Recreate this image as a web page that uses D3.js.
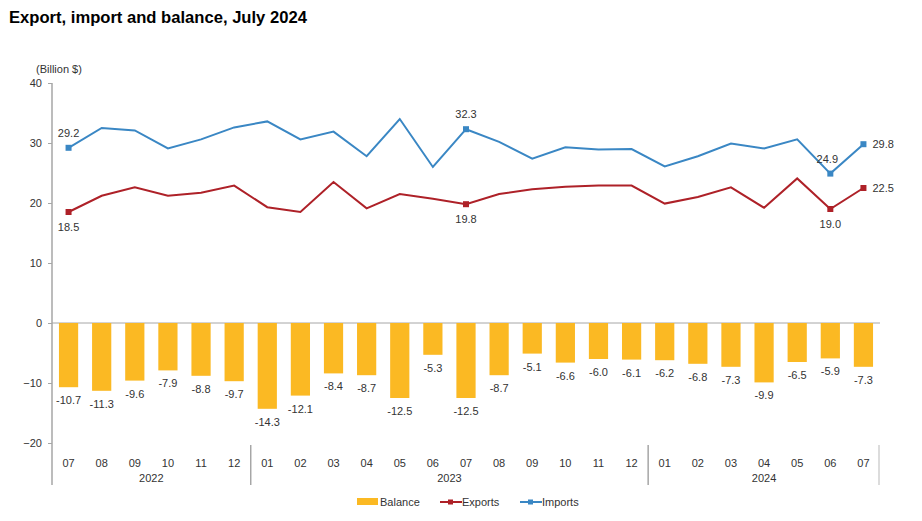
<!DOCTYPE html>
<html>
<head>
<meta charset="utf-8">
<script src="https://cdn.jsdelivr.net/npm/d3@7"></script>
<style>
  body { margin: 0; background: #fff; }
  svg text { font-family: "Liberation Sans", Arial, sans-serif; fill: #333; }
</style>
</head>
<body>
<div id="chart"></div>
<script>
// months from 2022-07 to 2024-07
var months = ["07","08","09","10","11","12","01","02","03","04","05","06","07","08","09","10","11","12","01","02","03","04","05","06","07"];
var years = [
    { label: "2022", from: 0, to: 5 },
    { label: "2023", from: 6, to: 17 },
    { label: "2024", from: 18, to: 24 }
];
var balance = [-10.7,-11.3,-9.6,-7.9,-8.8,-9.7,-14.3,-12.1,-8.4,-8.7,-12.5,-5.3,-12.5,-8.7,-5.1,-6.6,-6.0,-6.1,-6.2,-6.8,-7.3,-9.9,-6.5,-5.9,-7.3];
var exportsV = [18.5,21.2,22.6,21.2,21.7,22.9,19.3,18.5,23.5,19.1,21.5,20.7,19.8,21.5,22.3,22.7,22.9,22.9,19.9,21.0,22.6,19.2,24.1,19.0,22.5];
var importsV = [29.2,32.5,32.1,29.1,30.6,32.6,33.6,30.6,31.9,27.8,34.0,26.0,32.3,30.2,27.4,29.3,28.9,29.0,26.1,27.8,29.9,29.1,30.6,24.9,29.8];
var yTicks = [-20,-10,0,10,20,30,40];
// which points get a value label on the lines
var labelled = [0, 12, 23, 24];

var svgWidth = 922;
var svgHeight = 521;
var colBalance = "#FBB923";
var colExports = "#AE2128";
var colImports = "#3A87C4";
var axisCol = "#A6A6A6";

var svg = d3.select("#chart")
    .append("svg")
    .attr("width", svgWidth)
    .attr("height", svgHeight);

svg.append("text")
    .attr("x", 9)
    .attr("y", 23)
    .attr("font-size", "16.6px")
    .attr("font-weight", "bold")
    .style("fill", "#000")
    .text("Export, import and balance, July 2024");

var xScale = d3.scaleBand()
    .domain(d3.range(months.length))
    .range([52, 880])
    .paddingInner(0)
    .paddingOuter(0);

var yScale = d3.scaleLinear()
    .domain([-20, 40])
    .range([443, 83]);

var cx = i => xScale(i) + xScale.bandwidth() / 2;
var barW = xScale.bandwidth() * 0.58;

// zero line
svg.append("line")
    .attr("x1", 52).attr("x2", 880)
    .attr("y1", yScale(0)).attr("y2", yScale(0))
    .attr("stroke", axisCol).attr("stroke-width", 1);

// y axis
var leftAxis = d3.axisLeft(yScale).tickValues(yTicks).tickSize(4).tickPadding(6);
var yG = svg.append("g")
    .attr("transform", "translate(52,0)")
    .call(leftAxis);
yG.select(".domain").remove();
yG.selectAll(".tick line").attr("stroke", axisCol);
yG.selectAll(".tick text")
    .attr("font-size", "11px")
    .style("font-family", "'Liberation Sans', Arial, sans-serif")
    .style("fill", "#333");
svg.append("line")
    .attr("x1", 52).attr("x2", 52)
    .attr("y1", yScale(40)).attr("y2", 485)
    .attr("stroke", axisCol).attr("stroke-width", 1.5);

svg.append("text")
    .attr("x", 36)
    .attr("y", 73)
    .attr("font-size", "11px")
    .text("(Billion $)");

// bars
svg.selectAll(".bar")
    .data(balance)
    .enter()
    .append("rect")
    .attr("class", "bar")
    .attr("x", (d, i) => cx(i) - barW / 2)
    .attr("y", yScale(0))
    .attr("width", barW)
    .attr("height", d => yScale(d) - yScale(0))
    .attr("fill", colBalance);

svg.selectAll(".barLabel")
    .data(balance)
    .enter()
    .append("text")
    .attr("class", "barLabel")
    .attr("x", (d, i) => cx(i))
    .attr("y", d => yScale(d) + 17)
    .attr("text-anchor", "middle")
    .attr("font-size", "11px")
    .text(d => d.toFixed(1));

// lines
var line = d3.line()
    .x((d, i) => cx(i))
    .y(d => yScale(d));

svg.append("path")
    .datum(importsV)
    .attr("d", line)
    .attr("fill", "none")
    .attr("stroke", colImports)
    .attr("stroke-width", 2);

svg.append("path")
    .datum(exportsV)
    .attr("d", line)
    .attr("fill", "none")
    .attr("stroke", colExports)
    .attr("stroke-width", 2);

// markers and labels on selected points
labelled.forEach(function (i) {
    svg.append("rect")
        .attr("x", cx(i) - 3).attr("y", yScale(importsV[i]) - 3)
        .attr("width", 6).attr("height", 6)
        .attr("fill", colImports);
    svg.append("rect")
        .attr("x", cx(i) - 3).attr("y", yScale(exportsV[i]) - 3)
        .attr("width", 6).attr("height", 6)
        .attr("fill", colExports);

    var last = i === months.length - 1;
    svg.append("text")
        .attr("x", last ? cx(i) + 9 : cx(i) - (i === 23 ? 3 : 0))
        .attr("y", last ? yScale(importsV[i]) + 4 : yScale(importsV[i]) - 11)
        .attr("text-anchor", last ? "start" : "middle")
        .attr("font-size", "11px")
        .text(importsV[i].toFixed(1));
    svg.append("text")
        .attr("x", last ? cx(i) + 9 : cx(i))
        .attr("y", last ? yScale(exportsV[i]) + 4 : yScale(exportsV[i]) + 19)
        .attr("text-anchor", last ? "start" : "middle")
        .attr("font-size", "11px")
        .text(exportsV[i].toFixed(1));
});

// x axis: month labels
var bottomAxis = d3.axisBottom(xScale).tickSize(0).tickPadding(10).tickFormat(i => months[i]);
var xG = svg.append("g")
    .attr("transform", "translate(0,449)")
    .call(bottomAxis);
xG.select(".domain").remove();
xG.selectAll(".tick text")
    .attr("font-size", "11px")
    .style("font-family", "'Liberation Sans', Arial, sans-serif")
    .style("fill", "#333");

// year separators and labels
years.forEach(function (yr) {
    var x0 = xScale(yr.from);
    var x1 = xScale(yr.to) + xScale.bandwidth();
    if (yr.from > 0) {
        svg.append("line")
            .attr("x1", x0).attr("x2", x0)
            .attr("y1", 445).attr("y2", 485)
            .attr("stroke", axisCol).attr("stroke-width", 1.5);
    }
    if (yr.to === months.length - 1) {
        svg.append("line")
            .attr("x1", x1 - 1).attr("x2", x1 - 1)
            .attr("y1", 445).attr("y2", 485)
            .attr("stroke", "#D0D0D0").attr("stroke-width", 1.5);
    }
    svg.append("text")
        .attr("x", (x0 + x1) / 2)
        .attr("y", 482)
        .attr("text-anchor", "middle")
        .attr("font-size", "11px")
        .text(yr.label);
});

// legend
var legend = svg.append("g").attr("transform", "translate(0,502)");
legend.append("rect")
    .attr("x", 357).attr("y", -4).attr("width", 21).attr("height", 7)
    .attr("fill", colBalance);
legend.append("text").attr("x", 380).attr("y", 4).attr("font-size", "11px").text("Balance");

[[colExports, "Exports", 440], [colImports, "Imports", 520]].forEach(function (l) {
    legend.append("line")
        .attr("x1", l[2]).attr("x2", l[2] + 22)
        .attr("y1", 0).attr("y2", 0)
        .attr("stroke", l[0]).attr("stroke-width", 2);
    legend.append("rect")
        .attr("x", l[2] + 8).attr("y", -2.5).attr("width", 5).attr("height", 5)
        .attr("fill", l[0]);
    legend.append("text").attr("x", l[2] + 22).attr("y", 4).attr("font-size", "11px").text(l[1]);
});
</script>
</body>
</html>
